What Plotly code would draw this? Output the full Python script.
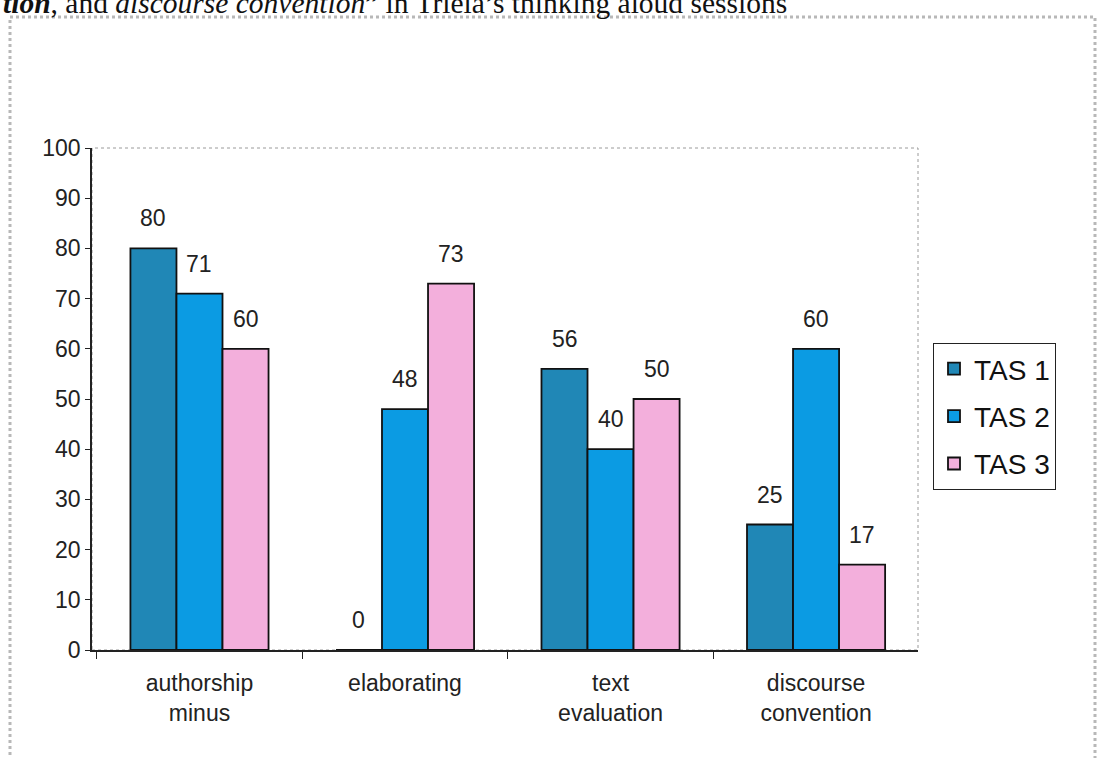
import plotly.graph_objects as go

categories = ["authorship<br>minus", "elaborating", "text<br>evaluation", "discourse<br>convention"]
series_names = ["TAS 1", "TAS 2", "TAS 3"]
tas1 = [80, 0, 56, 25]
tas2 = [71, 48, 40, 60]
tas3 = [60, 73, 50, 17]
y_ticks = [0, 10, 20, 30, 40, 50, 60, 70, 80, 90, 100]

colors = ["#2087b6", "#0b9be3", "#f3afdc"]
series = [tas1, tas2, tas3]

W, H = 1099, 758
L, R, T, B = 92, 918, 148, 650
pw, ph = R - L, B - T

def px(x):
    return (x - L) / pw

def py(y):
    return (B - y) / ph

x_range = [-0.523, 3.496]
band_px = pw / (x_range[1] - x_range[0])

fig = go.Figure()
for i, (name, vals) in enumerate(zip(series_names, series)):
    fig.add_trace(go.Bar(
        x=categories, y=vals, name=name,
        marker=dict(color=colors[i], line=dict(color="#111111", width=1.8)),
        legendgroup=name,
    ))

bargap = 0.328
bar_px = band_px * (1 - bargap) / 3
anns = []
for i, vals in enumerate(series):
    for j, v in enumerate(vals):
        anns.append(dict(
            x=categories[j], y=v, xref="x", yref="y",
            text=str(v), showarrow=False,
            xshift=(i - 1) * bar_px, yshift=30, yanchor="middle",
            font=dict(family="Liberation Sans, Arial", size=23, color="#222222"),
        ))

anns.append(dict(
    xref="paper", yref="paper", x=px(1), y=py(3), xanchor="left", yanchor="middle",
    text="<b><i>tion</i></b>, and <i>discourse convention</i>\u201d in Triela\u2019s thinking aloud sessions",
    showarrow=False,
    font=dict(family="Liberation Serif, Times New Roman", size=29.5, color="#111111"),
))

shapes = [
    dict(type="rect", xref="paper", yref="paper", x0=px(10), x1=px(1095), y0=py(790), y1=py(17),
         line=dict(color="#b8b8b8", width=3, dash="dot"), layer="below"),
    dict(type="rect", xref="paper", yref="paper", x0=0, x1=1, y0=0, y1=1,
         line=dict(color="#9a9a9a", width=1, dash="dot"), layer="below"),
]

fig.update_layout(
    width=W, height=H,
    margin=dict(l=L, r=W - R, t=T, b=H - B, pad=0),
    paper_bgcolor="white", plot_bgcolor="white",
    barmode="group", bargap=bargap, bargroupgap=0,
    showlegend=True,
    legend=dict(
        x=px(933), y=py(343), xanchor="left", yanchor="top",
        bordercolor="#222222", borderwidth=1, bgcolor="white",
        font=dict(family="Liberation Sans, Arial", size=28, color="#111111"),
        tracegroupgap=8, itemwidth=30,
    ),
    annotations=anns,
    shapes=shapes,
    font=dict(family="Liberation Sans, Arial", color="#222222"),
)

fig.update_xaxes(
    type="category", range=x_range, showgrid=False, showline=True,
    linecolor="#222222", linewidth=1.5,
    ticks="outside", tickson="boundaries", ticklen=7, tickcolor="#222222",
    ticklabelstandoff=12,
    tickfont=dict(size=23, color="#222222"),
)
fig.update_yaxes(
    range=[0, 100], tickvals=y_ticks, showgrid=False, zeroline=False,
    showline=True, linecolor="#222222", linewidth=1.5,
    ticks="outside", ticklen=5, tickcolor="#222222",
    tickfont=dict(size=23, color="#222222"),
)

fig.write_html("out.html", config={"displayModeBar": False},
               post_script="document.body.style.margin='0px';")
